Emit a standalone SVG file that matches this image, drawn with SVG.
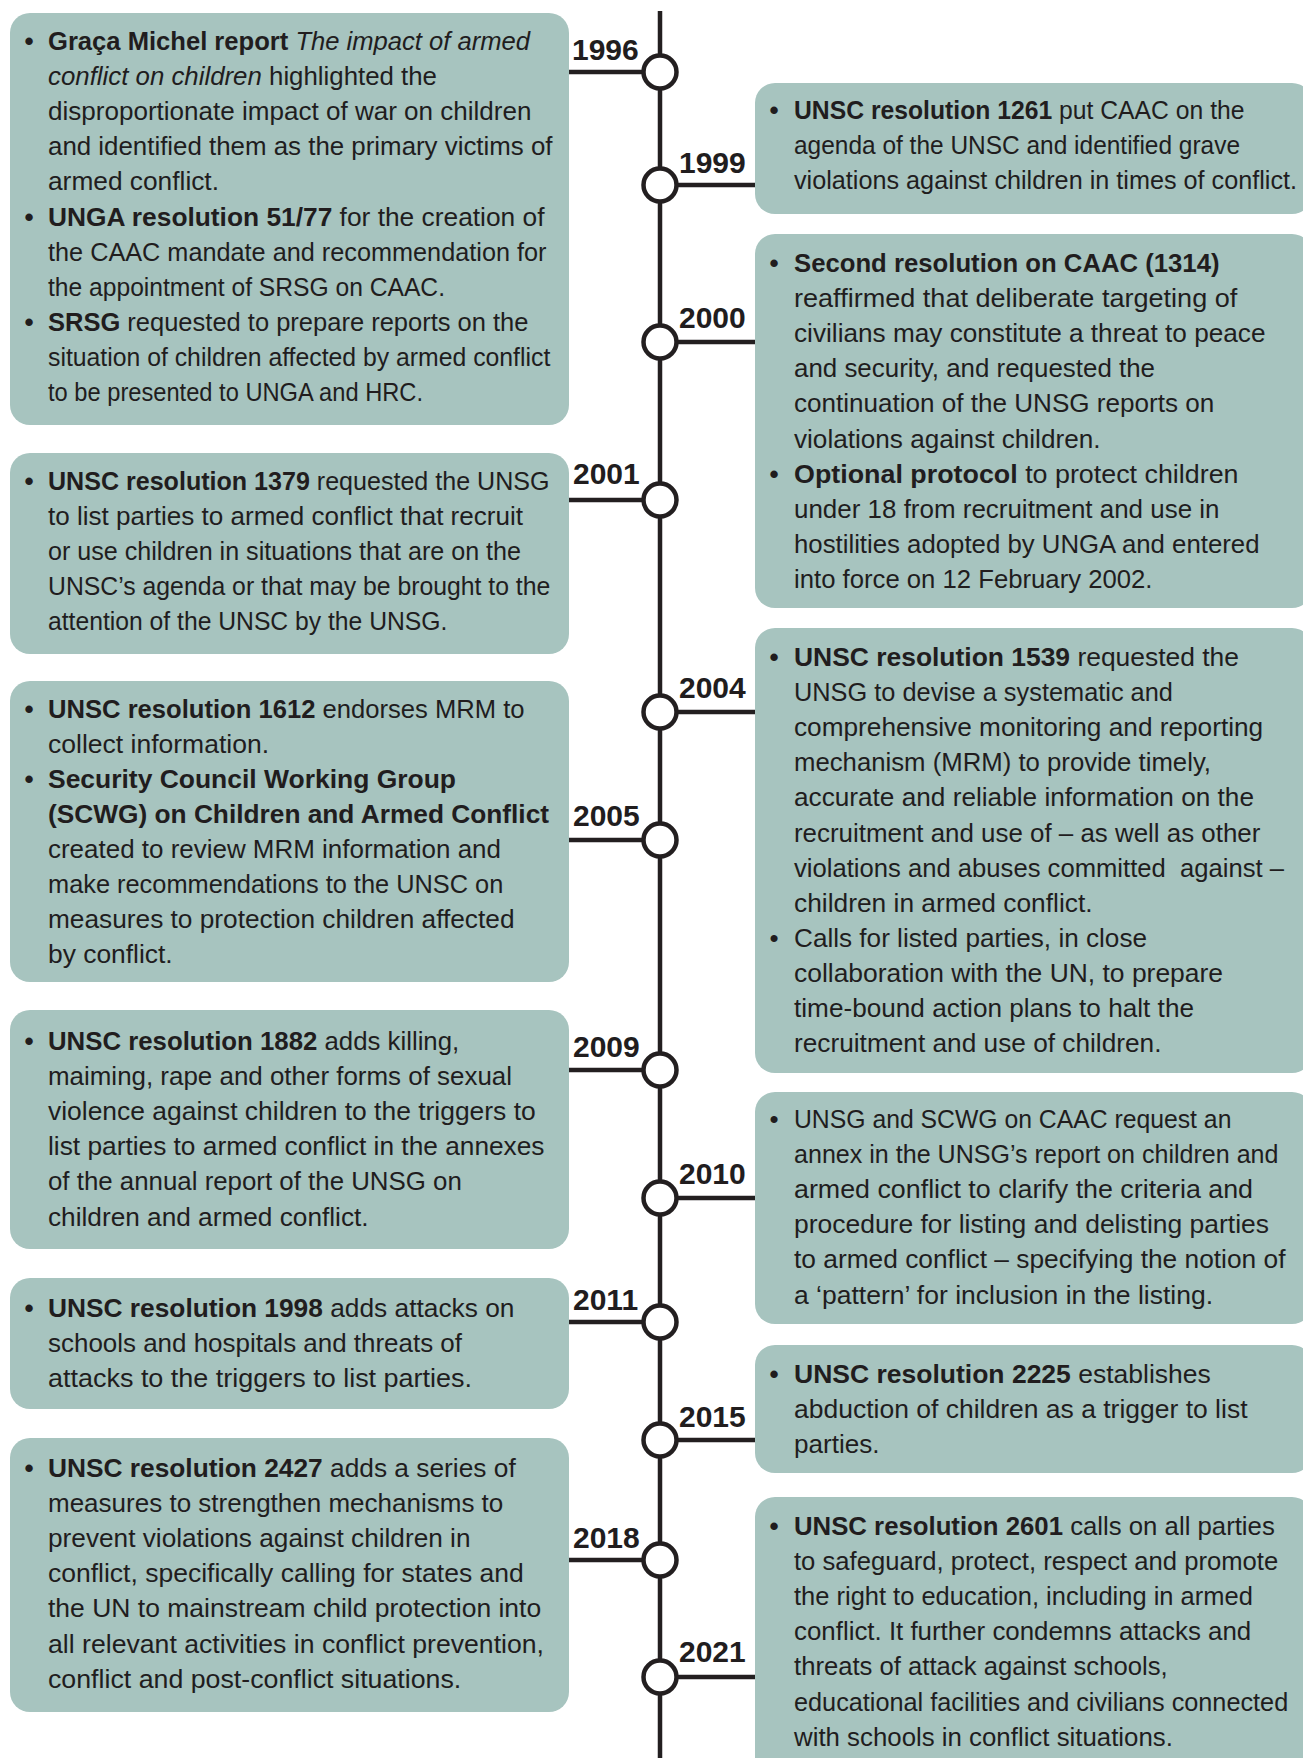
<svg xmlns="http://www.w3.org/2000/svg" width="1303" height="1758" viewBox="0 0 1303 1758">
<style>
.box{fill:#a7c4bf}
.t{font-family:"Liberation Sans",Arial,sans-serif;font-size:26px;fill:#211d1e}
.b{font-weight:bold}
.i{font-style:italic}
.yr{font-family:"Liberation Sans",Arial,sans-serif;font-weight:bold;font-size:30px;fill:#211d1e}
.ln{stroke:#231f20;stroke-width:4.5;fill:none}
.dot{fill:#ffffff;stroke:#231f20;stroke-width:4.5}
</style>
<rect width="1303" height="1758" fill="#ffffff"/>
<g id="connectors">
<line class="ln" x1="660" y1="11" x2="660" y2="1758"/>
<line class="ln" x1="569" y1="72" x2="660" y2="72"/>
<line class="ln" x1="660" y1="185" x2="755" y2="185"/>
<line class="ln" x1="660" y1="342" x2="755" y2="342"/>
<line class="ln" x1="569" y1="500" x2="660" y2="500"/>
<line class="ln" x1="660" y1="712" x2="755" y2="712"/>
<line class="ln" x1="569" y1="840" x2="660" y2="840"/>
<line class="ln" x1="569" y1="1070" x2="660" y2="1070"/>
<line class="ln" x1="660" y1="1198" x2="755" y2="1198"/>
<line class="ln" x1="569" y1="1322" x2="660" y2="1322"/>
<line class="ln" x1="660" y1="1440" x2="755" y2="1440"/>
<line class="ln" x1="569" y1="1560" x2="660" y2="1560"/>
<line class="ln" x1="660" y1="1677" x2="755" y2="1677"/>
</g>
<g id="n1996">
<rect class="box" x="10" y="13" width="559" height="412" rx="20"/>
<circle class="dot" cx="660" cy="72" r="16.5"/>
<text class="yr" x="572" y="60">1996</text>
<text class="t b" x="24.5" y="50">•</text>
<text class="t" x="48" y="50" textLength="482" lengthAdjust="spacingAndGlyphs"><tspan class="b">Graça Michel report</tspan> <tspan class="i">The impact of armed</tspan></text>
<text class="t" x="48" y="85.1" textLength="389" lengthAdjust="spacingAndGlyphs"><tspan class="i">conflict on children</tspan> highlighted the</text>
<text class="t" x="48" y="120.2" textLength="483.5" lengthAdjust="spacingAndGlyphs">disproportionate impact of war on children</text>
<text class="t" x="48" y="155.3" textLength="504.5" lengthAdjust="spacingAndGlyphs">and identified them as the primary victims of</text>
<text class="t" x="48" y="190.4" textLength="171" lengthAdjust="spacingAndGlyphs">armed conflict.</text>
<text class="t b" x="24.5" y="225.5">•</text>
<text class="t" x="48" y="225.5" textLength="496.5" lengthAdjust="spacingAndGlyphs"><tspan class="b">UNGA resolution 51/77</tspan> for the creation of</text>
<text class="t" x="48" y="260.6" textLength="498.5" lengthAdjust="spacingAndGlyphs">the CAAC mandate and recommendation for</text>
<text class="t" x="48" y="295.7" textLength="397" lengthAdjust="spacingAndGlyphs">the appointment of SRSG on CAAC.</text>
<text class="t b" x="24.5" y="330.8">•</text>
<text class="t" x="48" y="330.8" textLength="480.5" lengthAdjust="spacingAndGlyphs"><tspan class="b">SRSG</tspan> requested to prepare reports on the</text>
<text class="t" x="48" y="365.9" textLength="502.3" lengthAdjust="spacingAndGlyphs">situation of children affected by armed conflict</text>
<text class="t" x="48" y="401" textLength="375" lengthAdjust="spacingAndGlyphs">to be presented to UNGA and HRC.</text>
</g>
<g id="n1999">
<rect class="box" x="755" y="83" width="557" height="131" rx="20"/>
<circle class="dot" cx="660" cy="185" r="16.5"/>
<text class="yr" x="679" y="173">1999</text>
<text class="t b" x="769.5" y="119">•</text>
<text class="t" x="794" y="119" textLength="450.5" lengthAdjust="spacingAndGlyphs"><tspan class="b">UNSC resolution 1261</tspan> put CAAC on the</text>
<text class="t" x="794" y="154.1" textLength="446" lengthAdjust="spacingAndGlyphs">agenda of the UNSC and identified grave</text>
<text class="t" x="794" y="189.2" textLength="503" lengthAdjust="spacingAndGlyphs">violations against children in times of conflict.</text>
</g>
<g id="n2000">
<rect class="box" x="755" y="234" width="557" height="374" rx="20"/>
<circle class="dot" cx="660" cy="342" r="16.5"/>
<text class="yr" x="679" y="328">2000</text>
<text class="t b" x="769.5" y="272">•</text>
<text class="t b" x="794" y="272" textLength="425.5" lengthAdjust="spacingAndGlyphs">Second resolution on CAAC (1314)</text>
<text class="t" x="794" y="307.1" textLength="443.3" lengthAdjust="spacingAndGlyphs">reaffirmed that deliberate targeting of</text>
<text class="t" x="794" y="342.2" textLength="471.5" lengthAdjust="spacingAndGlyphs">civilians may constitute a threat to peace</text>
<text class="t" x="794" y="377.3" textLength="361" lengthAdjust="spacingAndGlyphs">and security, and requested the</text>
<text class="t" x="794" y="412.4" textLength="420.2" lengthAdjust="spacingAndGlyphs">continuation of the UNSG reports on</text>
<text class="t" x="794" y="447.5" textLength="306.5" lengthAdjust="spacingAndGlyphs">violations against children.</text>
<text class="t b" x="769.5" y="482.6">•</text>
<text class="t" x="794" y="482.6" textLength="444.5" lengthAdjust="spacingAndGlyphs"><tspan class="b">Optional protocol</tspan> to protect children</text>
<text class="t" x="794" y="517.7" textLength="425.5" lengthAdjust="spacingAndGlyphs">under 18 from recruitment and use in</text>
<text class="t" x="794" y="552.8" textLength="465.5" lengthAdjust="spacingAndGlyphs">hostilities adopted by UNGA and entered</text>
<text class="t" x="794" y="587.9" textLength="358.5" lengthAdjust="spacingAndGlyphs">into force on 12 February 2002.</text>
</g>
<g id="n2001">
<rect class="box" x="10" y="453" width="559" height="201" rx="20"/>
<circle class="dot" cx="660" cy="500" r="16.5"/>
<text class="yr" x="573" y="484">2001</text>
<text class="t b" x="24.5" y="490">•</text>
<text class="t" x="48" y="490" textLength="501.5" lengthAdjust="spacingAndGlyphs"><tspan class="b">UNSC resolution 1379</tspan> requested the UNSG</text>
<text class="t" x="48" y="525.1" textLength="475" lengthAdjust="spacingAndGlyphs">to list parties to armed conflict that recruit</text>
<text class="t" x="48" y="560.2" textLength="473" lengthAdjust="spacingAndGlyphs">or use children in situations that are on the</text>
<text class="t" x="48" y="595.3" textLength="502.3" lengthAdjust="spacingAndGlyphs">UNSC’s agenda or that may be brought to the</text>
<text class="t" x="48" y="630.4" textLength="399.4" lengthAdjust="spacingAndGlyphs">attention of the UNSC by the UNSG.</text>
</g>
<g id="n2004">
<rect class="box" x="755" y="628" width="557" height="445" rx="20"/>
<circle class="dot" cx="660" cy="712" r="16.5"/>
<text class="yr" x="679" y="698">2004</text>
<text class="t b" x="769.5" y="666">•</text>
<text class="t" x="794" y="666" textLength="445" lengthAdjust="spacingAndGlyphs"><tspan class="b">UNSC resolution 1539</tspan> requested the</text>
<text class="t" x="794" y="701.1" textLength="378.9" lengthAdjust="spacingAndGlyphs">UNSG to devise a systematic and</text>
<text class="t" x="794" y="736.2" textLength="469.2" lengthAdjust="spacingAndGlyphs">comprehensive monitoring and reporting</text>
<text class="t" x="794" y="771.3" textLength="417" lengthAdjust="spacingAndGlyphs">mechanism (MRM) to provide timely,</text>
<text class="t" x="794" y="806.4" textLength="460" lengthAdjust="spacingAndGlyphs">accurate and reliable information on the</text>
<text class="t" x="794" y="841.5" textLength="466.4" lengthAdjust="spacingAndGlyphs">recruitment and use of – as well as other</text>
<text class="t" x="794" y="876.6" style="white-space:pre" textLength="490" lengthAdjust="spacingAndGlyphs">violations and abuses committed  against –</text>
<text class="t" x="794" y="911.7" textLength="298.6" lengthAdjust="spacingAndGlyphs">children in armed conflict.</text>
<text class="t" x="769.5" y="946.8">•</text>
<text class="t" x="794" y="946.8" textLength="353" lengthAdjust="spacingAndGlyphs">Calls for listed parties, in close</text>
<text class="t" x="794" y="981.9" textLength="429" lengthAdjust="spacingAndGlyphs">collaboration with the UN, to prepare</text>
<text class="t" x="794" y="1017" textLength="400" lengthAdjust="spacingAndGlyphs">time-bound action plans to halt the</text>
<text class="t" x="794" y="1052.1" textLength="367.5" lengthAdjust="spacingAndGlyphs">recruitment and use of children.</text>
</g>
<g id="n2005">
<rect class="box" x="10" y="681" width="559" height="301" rx="20"/>
<circle class="dot" cx="660" cy="840" r="16.5"/>
<text class="yr" x="573" y="826">2005</text>
<text class="t b" x="24.5" y="717.5">•</text>
<text class="t" x="48" y="717.5" textLength="476.5" lengthAdjust="spacingAndGlyphs"><tspan class="b">UNSC resolution 1612</tspan> endorses MRM to</text>
<text class="t" x="48" y="752.6" textLength="221" lengthAdjust="spacingAndGlyphs">collect information.</text>
<text class="t b" x="24.5" y="787.7">•</text>
<text class="t b" x="48" y="787.7" textLength="408" lengthAdjust="spacingAndGlyphs">Security Council Working Group</text>
<text class="t b" x="48" y="822.8" textLength="501" lengthAdjust="spacingAndGlyphs">(SCWG) on Children and Armed Conflict</text>
<text class="t" x="48" y="857.9" textLength="453" lengthAdjust="spacingAndGlyphs">created to review MRM information and</text>
<text class="t" x="48" y="893" textLength="455.3" lengthAdjust="spacingAndGlyphs">make recommendations to the UNSC on</text>
<text class="t" x="48" y="928.1" textLength="466.5" lengthAdjust="spacingAndGlyphs">measures to protection children affected</text>
<text class="t" x="48" y="963.2" textLength="124.7" lengthAdjust="spacingAndGlyphs">by conflict.</text>
</g>
<g id="n2009">
<rect class="box" x="10" y="1010" width="559" height="239" rx="20"/>
<circle class="dot" cx="660" cy="1070" r="16.5"/>
<text class="yr" x="573" y="1057">2009</text>
<text class="t b" x="24.5" y="1050">•</text>
<text class="t" x="48" y="1050" textLength="411.2" lengthAdjust="spacingAndGlyphs"><tspan class="b">UNSC resolution 1882</tspan> adds killing,</text>
<text class="t" x="48" y="1085.1" textLength="464" lengthAdjust="spacingAndGlyphs">maiming, rape and other forms of sexual</text>
<text class="t" x="48" y="1120.2" textLength="487.7" lengthAdjust="spacingAndGlyphs">violence against children to the triggers to</text>
<text class="t" x="48" y="1155.3" textLength="496.5" lengthAdjust="spacingAndGlyphs">list parties to armed conflict in the annexes</text>
<text class="t" x="48" y="1190.4" textLength="413.8" lengthAdjust="spacingAndGlyphs">of the annual report of the UNSG on</text>
<text class="t" x="48" y="1225.5" textLength="320.6" lengthAdjust="spacingAndGlyphs">children and armed conflict.</text>
</g>
<g id="n2010">
<rect class="box" x="755" y="1092" width="557" height="232" rx="20"/>
<circle class="dot" cx="660" cy="1198" r="16.5"/>
<text class="yr" x="679" y="1184">2010</text>
<text class="t" x="769.5" y="1128">•</text>
<text class="t" x="794" y="1128" textLength="437.4" lengthAdjust="spacingAndGlyphs">UNSG and SCWG on CAAC request an</text>
<text class="t" x="794" y="1163.1" textLength="484.5" lengthAdjust="spacingAndGlyphs">annex in the UNSG’s report on children and</text>
<text class="t" x="794" y="1198.2" textLength="459" lengthAdjust="spacingAndGlyphs">armed conflict to clarify the criteria and</text>
<text class="t" x="794" y="1233.3" textLength="475" lengthAdjust="spacingAndGlyphs">procedure for listing and delisting parties</text>
<text class="t" x="794" y="1268.4" textLength="491.5" lengthAdjust="spacingAndGlyphs">to armed conflict – specifying the notion of</text>
<text class="t" x="794" y="1303.5" textLength="419.1" lengthAdjust="spacingAndGlyphs">a ‘pattern’ for inclusion in the listing.</text>
</g>
<g id="n2011">
<rect class="box" x="10" y="1278" width="559" height="131" rx="20"/>
<circle class="dot" cx="660" cy="1322" r="16.5"/>
<text class="yr" x="573" y="1310">2011</text>
<text class="t b" x="24.5" y="1317">•</text>
<text class="t" x="48" y="1317" textLength="466.5" lengthAdjust="spacingAndGlyphs"><tspan class="b">UNSC resolution 1998</tspan> adds attacks on</text>
<text class="t" x="48" y="1352.1" textLength="414" lengthAdjust="spacingAndGlyphs">schools and hospitals and threats of</text>
<text class="t" x="48" y="1387.2" textLength="424" lengthAdjust="spacingAndGlyphs">attacks to the triggers to list parties.</text>
</g>
<g id="n2015">
<rect class="box" x="755" y="1345" width="557" height="128" rx="20"/>
<circle class="dot" cx="660" cy="1440" r="16.5"/>
<text class="yr" x="679" y="1427">2015</text>
<text class="t b" x="769.5" y="1383">•</text>
<text class="t" x="794" y="1383" textLength="416.8" lengthAdjust="spacingAndGlyphs"><tspan class="b">UNSC resolution 2225</tspan> establishes</text>
<text class="t" x="794" y="1418.1" textLength="453.5" lengthAdjust="spacingAndGlyphs">abduction of children as a trigger to list</text>
<text class="t" x="794" y="1453.2" textLength="85.5" lengthAdjust="spacingAndGlyphs">parties.</text>
</g>
<g id="n2018">
<rect class="box" x="10" y="1438" width="559" height="274" rx="20"/>
<circle class="dot" cx="660" cy="1560" r="16.5"/>
<text class="yr" x="573" y="1548">2018</text>
<text class="t b" x="24.5" y="1477">•</text>
<text class="t" x="48" y="1477" textLength="467.7" lengthAdjust="spacingAndGlyphs"><tspan class="b">UNSC resolution 2427</tspan> adds a series of</text>
<text class="t" x="48" y="1512.1" textLength="455.3" lengthAdjust="spacingAndGlyphs">measures to strengthen mechanisms to</text>
<text class="t" x="48" y="1547.2" textLength="422.5" lengthAdjust="spacingAndGlyphs">prevent violations against children in</text>
<text class="t" x="48" y="1582.3" textLength="475.8" lengthAdjust="spacingAndGlyphs">conflict, specifically calling for states and</text>
<text class="t" x="48" y="1617.4" textLength="493.2" lengthAdjust="spacingAndGlyphs">the UN to mainstream child protection into</text>
<text class="t" x="48" y="1652.5" textLength="496" lengthAdjust="spacingAndGlyphs">all relevant activities in conflict prevention,</text>
<text class="t" x="48" y="1687.6" textLength="413.3" lengthAdjust="spacingAndGlyphs">conflict and post-conflict situations.</text>
</g>
<g id="n2021">
<rect class="box" x="755" y="1497" width="557" height="290" rx="20"/>
<circle class="dot" cx="660" cy="1677" r="16.5"/>
<text class="yr" x="679" y="1662">2021</text>
<text class="t b" x="769.5" y="1535">•</text>
<text class="t" x="794" y="1535" textLength="480.8" lengthAdjust="spacingAndGlyphs"><tspan class="b">UNSC resolution 2601</tspan> calls on all parties</text>
<text class="t" x="794" y="1570.1" textLength="484.2" lengthAdjust="spacingAndGlyphs">to safeguard, protect, respect and promote</text>
<text class="t" x="794" y="1605.2" textLength="458.8" lengthAdjust="spacingAndGlyphs">the right to education, including in armed</text>
<text class="t" x="794" y="1640.3" textLength="457.2" lengthAdjust="spacingAndGlyphs">conflict. It further condemns attacks and</text>
<text class="t" x="794" y="1675.4" textLength="373.6" lengthAdjust="spacingAndGlyphs">threats of attack against schools,</text>
<text class="t" x="794" y="1710.5" textLength="494.2" lengthAdjust="spacingAndGlyphs">educational facilities and civilians connected</text>
<text class="t" x="794" y="1745.6" textLength="378.9" lengthAdjust="spacingAndGlyphs">with schools in conflict situations.</text>
</g>
</svg>
